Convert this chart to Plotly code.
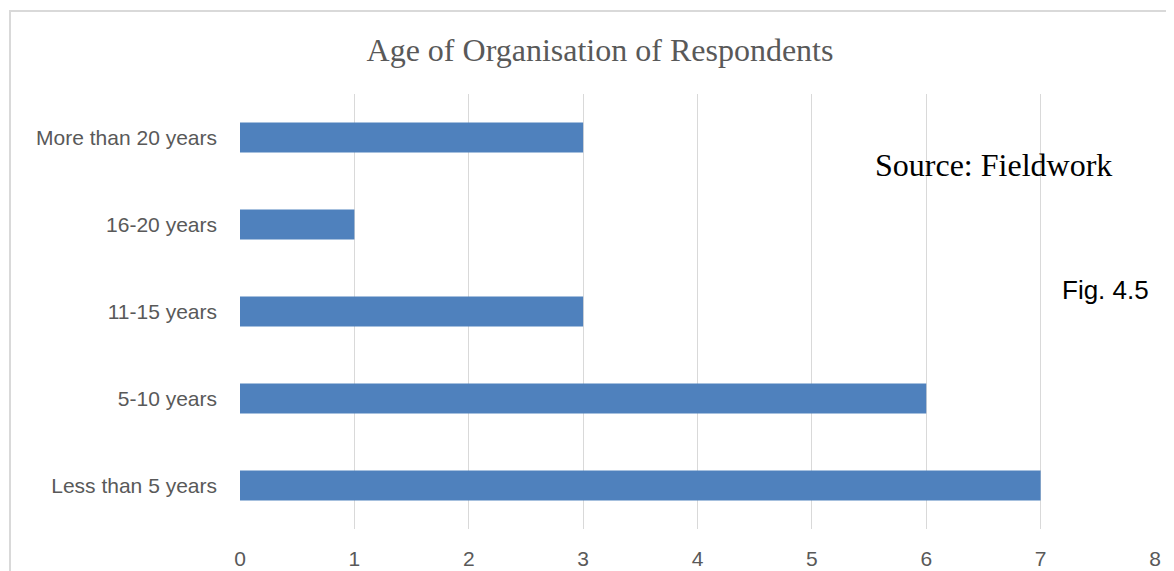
import plotly.graph_objects as go

categories = ["Less than 5 years", "5-10 years", "11-15 years", "16-20 years", "More than 20 years"]
values = [7, 6, 3, 1, 3]
x_ticks = [0, 1, 2, 3, 4, 5, 6, 7, 8]

OFF = 8  # page body margin
W, H = 1174 - OFF, 571 - OFF
L, R, T, B = 240 - OFF, 19, 94 - OFF, 42
pw, ph = W - L - R, H - T - B

def px_x(p):
    return (p - OFF - L) / pw

def px_y(p):
    return 1 - (p - OFF - T) / ph

fig = go.Figure(go.Bar(
    x=values, y=categories, orientation="h",
    marker=dict(color="#4F81BD", line=dict(width=0)),
    width=0.345,
))

fig.update_layout(
    width=W, height=H,
    margin=dict(l=L, r=R, t=T, b=B),
    plot_bgcolor="white", paper_bgcolor="white",
    showlegend=False,
    title=dict(text="Age of Organisation of Respondents", x=(600 - OFF) / W, xanchor="center",
               y=1 - (50 - OFF) / H, yanchor="middle",
               font=dict(family="Liberation Serif", size=32, color="#595959")),
    xaxis=dict(range=[0, 8], tickvals=x_ticks, showgrid=True, gridcolor="#D9D9D9", gridwidth=1,
               zeroline=False, showline=False, ticks="", ticklen=0, ticklabelstandoff=15,
               automargin=False,
               tickfont=dict(family="Liberation Sans", size=21, color="#595959")),
    yaxis=dict(categoryorder="array", categoryarray=categories, showgrid=False, zeroline=False,
               showline=False, ticks="", ticklabelstandoff=22, automargin=False,
               tickfont=dict(family="Liberation Sans", size=21, color="#595959")),
    annotations=[
        dict(text="Source: Fieldwork", xref="paper", yref="paper", x=px_x(873), y=px_y(165),
             xanchor="left", yanchor="middle", showarrow=False,
             font=dict(family="Liberation Serif", size=32, color="#000000")),
        dict(text="Fig. 4.5", xref="paper", yref="paper", x=px_x(1151), y=px_y(290),
             xanchor="right", yanchor="middle", showarrow=False,
             font=dict(family="Liberation Sans", size=26, color="#000000")),
    ],
    shapes=[
        dict(type="rect", xref="paper", yref="paper", x0=px_x(10), x1=px_x(1180),
             y0=px_y(620), y1=px_y(11), line=dict(color="#D9D9D9", width=2), layer="below"),
    ],
)

fig.write_html("out.html")
